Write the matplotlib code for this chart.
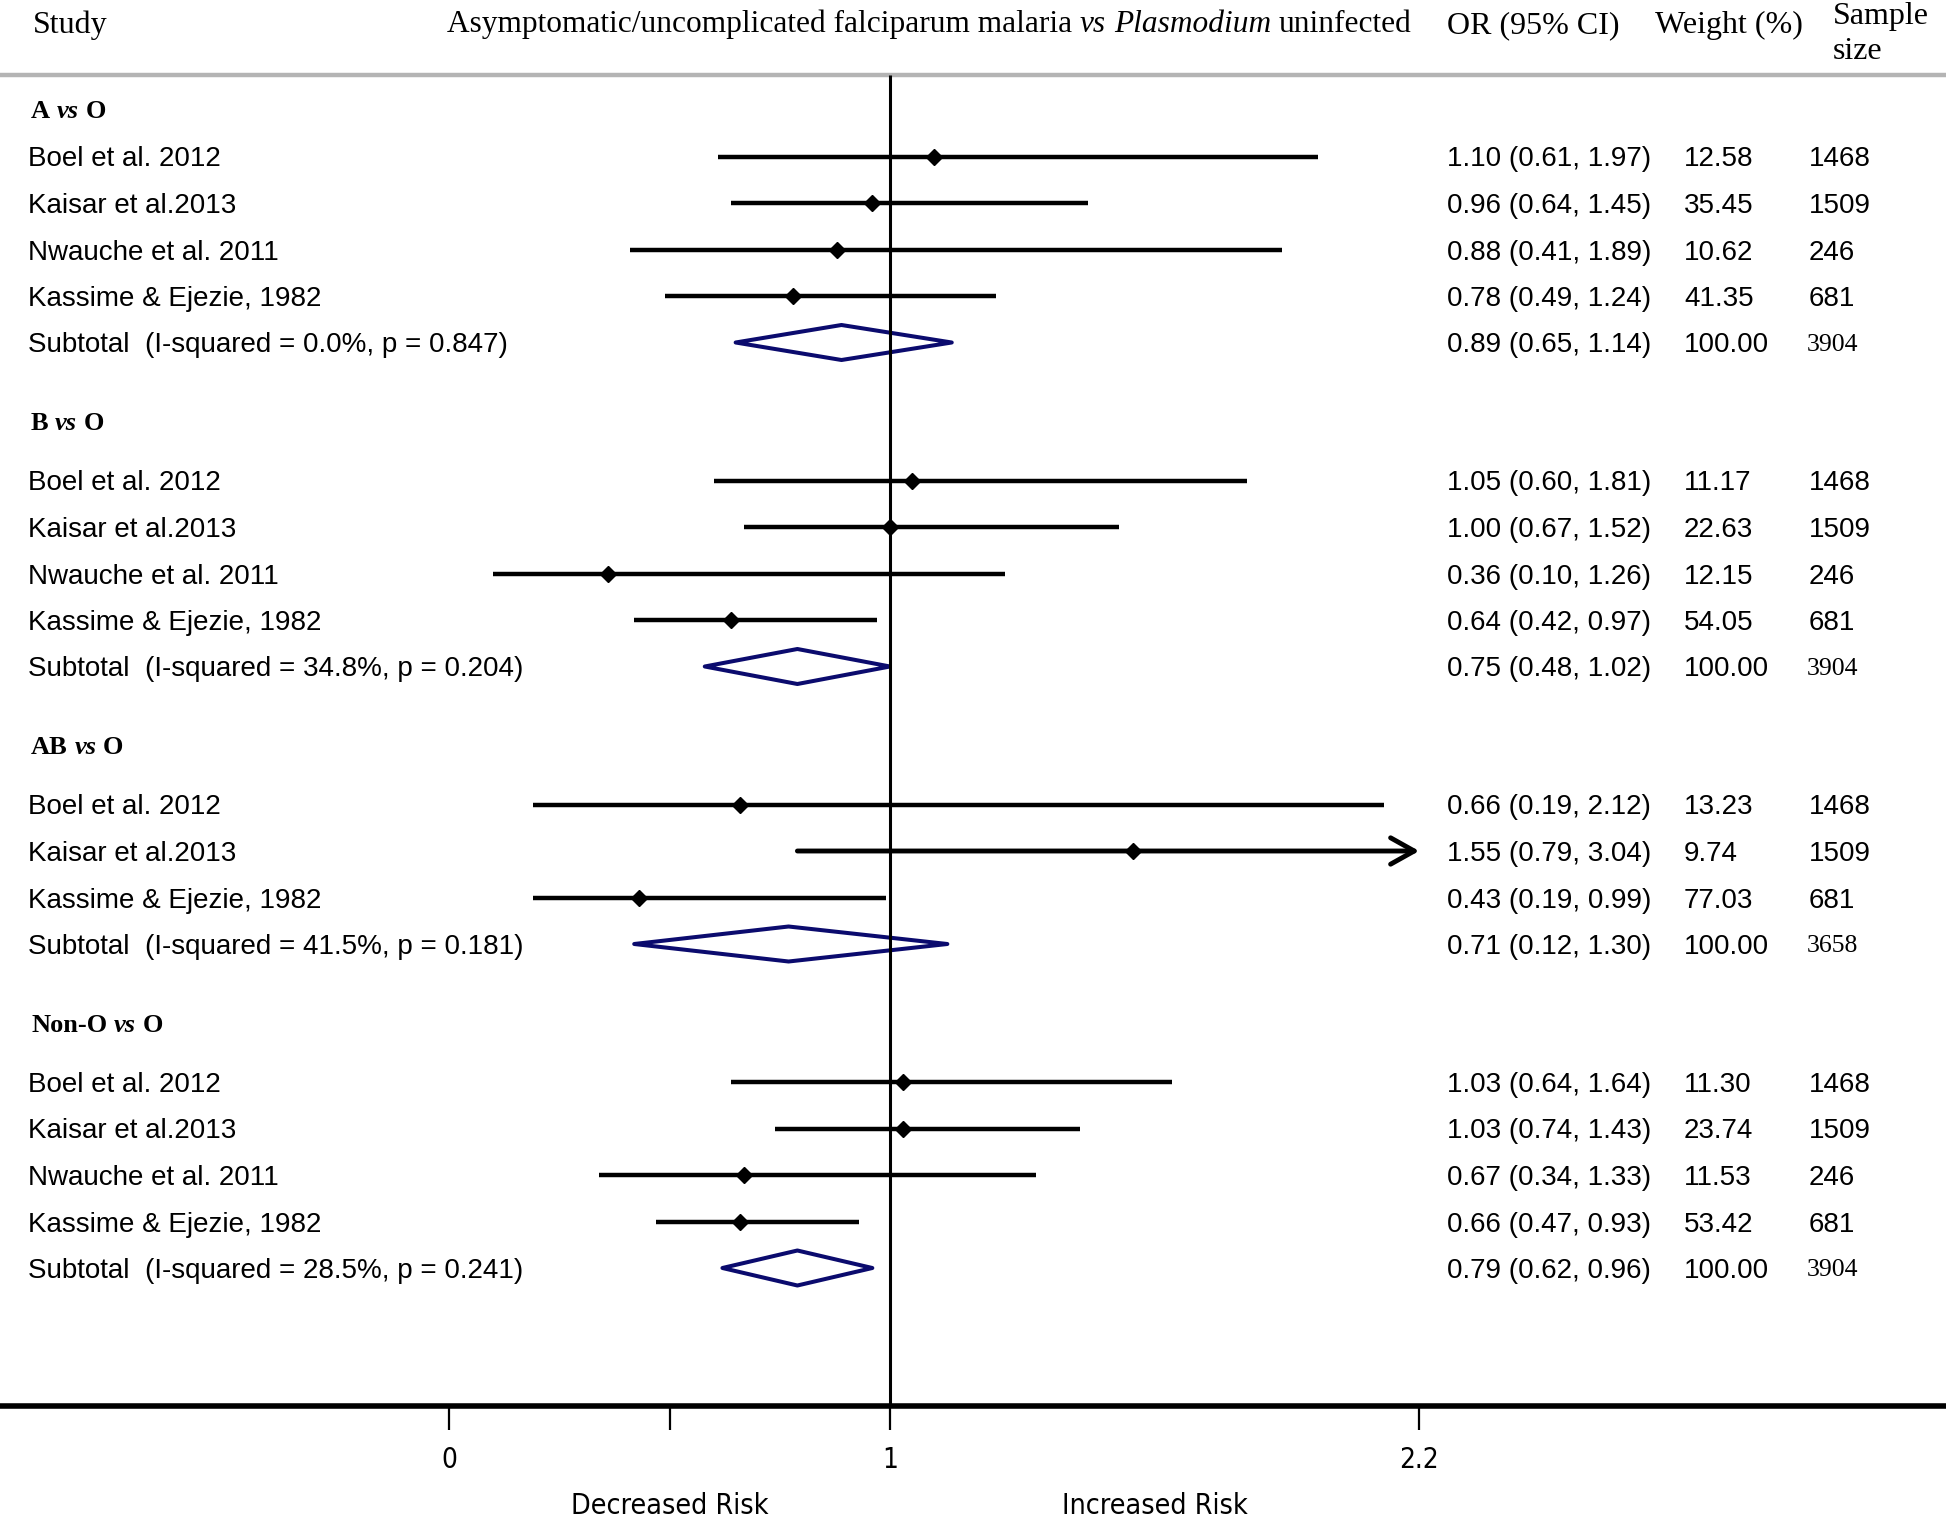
import matplotlib
matplotlib.use("Agg")
import matplotlib.pyplot as plt
from matplotlib.patches import Polygon

# ---- data ----
groups = ["A", "B", "AB", "Non-O"]
studies = [
    ["Boel et al. 2012", "Kaisar et al.2013", "Nwauche et al. 2011", "Kassime & Ejezie, 1982"],
    ["Boel et al. 2012", "Kaisar et al.2013", "Nwauche et al. 2011", "Kassime & Ejezie, 1982"],
    ["Boel et al. 2012", "Kaisar et al.2013", "Kassime & Ejezie, 1982"],
    ["Boel et al. 2012", "Kaisar et al.2013", "Nwauche et al. 2011", "Kassime & Ejezie, 1982"],
]
or_est = [[1.10, 0.96, 0.88, 0.78], [1.05, 1.00, 0.36, 0.64], [0.66, 1.55, 0.43], [1.03, 1.03, 0.67, 0.66]]
ci_lo = [[0.61, 0.64, 0.41, 0.49], [0.60, 0.67, 0.10, 0.42], [0.19, 0.79, 0.19], [0.64, 0.74, 0.34, 0.47]]
ci_hi = [[1.97, 1.45, 1.89, 1.24], [1.81, 1.52, 1.26, 0.97], [2.12, 3.04, 0.99], [1.64, 1.43, 1.33, 0.93]]
weights = [[12.58, 35.45, 10.62, 41.35], [11.17, 22.63, 12.15, 54.05], [13.23, 9.74, 77.03], [11.30, 23.74, 11.53, 53.42]]
sizes = [[1468, 1509, 246, 681], [1468, 1509, 246, 681], [1468, 1509, 681], [1468, 1509, 246, 681]]

# subtotal values as printed
sub_est = [0.89, 0.75, 0.71, 0.79]
sub_lo = [0.65, 0.48, 0.12, 0.62]
sub_hi = [1.14, 1.02, 1.30, 0.96]
i_squared = [0.0, 34.8, 41.5, 28.5]
p_het = [0.847, 0.204, 0.181, 0.241]
sub_size = [3904, 3904, 3658, 3904]

# subtotal diamonds as drawn in the figure (they differ from the printed B / AB values)
dia_lo = [0.65, 0.58, 0.42, 0.62]
dia_est = [0.89, 0.79, 0.77, 0.79]
dia_hi = [1.14, 1.00, 1.13, 0.96]

x_max = 2.2
xticks = [0, 0.5, 1, 2.2]
xticklabels = ["0", "", "1", "2.2"]

# ---- figure ----
W, H = 1946, 1519
fig = plt.figure(figsize=(W / 100, H / 100), dpi=100)
axis_px = 1406
ax = fig.add_axes([0, (H - axis_px) / H, 1, axis_px / H])
ax.set_xlim(-449 / 441, (W - 449) / 441)
ax.set_ylim(axis_px, 0)

SERIF = "Liberation Serif"
SANS = "Liberation Sans"
navy = "#0b0b6e"
tr = ax.get_yaxis_transform()


def colx(px):
    return px / W


def rich(x, y, parts, size, weight="normal"):
    s, style = parts[0]
    t = ax.text(colx(x), y, s, transform=tr, va="baseline", fontfamily=SERIF,
                fontsize=size, fontstyle=style, fontweight=weight)
    for s, style in parts[1:]:
        t = ax.annotate(s, xy=(1, 0), xycoords=t, xytext=(size * 0.25, 0),
                        textcoords="offset points", va="bottom", fontfamily=SERIF,
                        fontsize=size, fontstyle=style, fontweight=weight)
    return t


def cell(px, y, s, family=SANS, size=20):
    ax.text(colx(px), y, s, transform=tr, va="center_baseline", fontfamily=family, fontsize=size)


# header
rich(33, 33, [("Study", "normal")], 23)
rich(447, 32, [("Asymptomatic/uncomplicated falciparum malaria", "normal"),
               ("vs", "italic"), ("Plasmodium", "italic"), ("uninfected", "normal")], 22.6)
rich(1447, 33, [("OR (95% CI)", "normal")], 23)
rich(1655, 33, [("Weight (%)", "normal")], 23)
rich(1833, 24, [("Sample", "normal")], 23)
rich(1833, 59, [("size", "normal")], 23)
ax.axhline(75, color="#b4b4b4", lw=3.2)
ax.vlines(1, 75, axis_px, color="black", lw=2.2)

# rows
y = 110.5
for g in range(len(groups)):
    rich(31, y + 8, [(groups[g], "normal"), ("vs", "italic"), ("O", "normal")], 19, weight="bold")
    y += 46 if g == 0 else 58
    for i, name in enumerate(studies[g]):
        lo, hi, est = ci_lo[g][i], ci_hi[g][i], or_est[g][i]
        if hi > x_max:
            ax.annotate("", xy=(x_max, y), xytext=(lo, y),
                        arrowprops=dict(arrowstyle="->,head_length=1.7,head_width=0.95",
                                        lw=3.5, color="black", shrinkA=0, shrinkB=0))
        else:
            ax.plot([lo, hi], [y, y], color="black", lw=3.2, solid_capstyle="butt")
        ax.plot(est, y, marker="D", color="black", ms=8.5)
        cell(28.5, y, name)
        cell(1447, y, f"{est:.2f} ({lo:.2f}, {hi:.2f})")
        cell(1684, y, f"{weights[g][i]:.2f}")
        cell(1809, y, f"{sizes[g][i]}")
        y += 46.5
    # subtotal diamond
    h = 17.5
    dia = Polygon([(dia_lo[g], y), (dia_est[g], y - h), (dia_hi[g], y), (dia_est[g], y + h)],
                  closed=True, fill=False, edgecolor=navy, lw=2.9, joinstyle="round")
    ax.add_patch(dia)
    cell(28.5, y, f"Subtotal  (I-squared = {i_squared[g]:.1f}%, p = {p_het[g]:.3f})")
    cell(1447, y, f"{sub_est[g]:.2f} ({sub_lo[g]:.2f}, {sub_hi[g]:.2f})")
    cell(1684, y, "100.00")
    cell(1807, y, f"{sub_size[g]}", family=SERIF, size=18.5)
    y += 80

# x axis
for s in ["left", "right", "top"]:
    ax.spines[s].set_visible(False)
ax.spines["bottom"].set_linewidth(4)
ax.set_yticks([])
ax.set_xticks(xticks)
ax.set_xticklabels(xticklabels, fontfamily="DejaVu Sans", fontstretch="condensed", fontsize=20)
ax.tick_params(axis="x", direction="out", length=17, width=1.6, pad=12)

ax.text(0.5, 1514, "Decreased Risk", ha="center", va="baseline",
        fontfamily="DejaVu Sans", fontstretch="condensed", fontsize=20.5)
ax.text(1.6, 1514, "Increased Risk", ha="center", va="baseline",
        fontfamily="DejaVu Sans", fontstretch="condensed", fontsize=20.5)

fig.savefig("out.png", dpi=100)
